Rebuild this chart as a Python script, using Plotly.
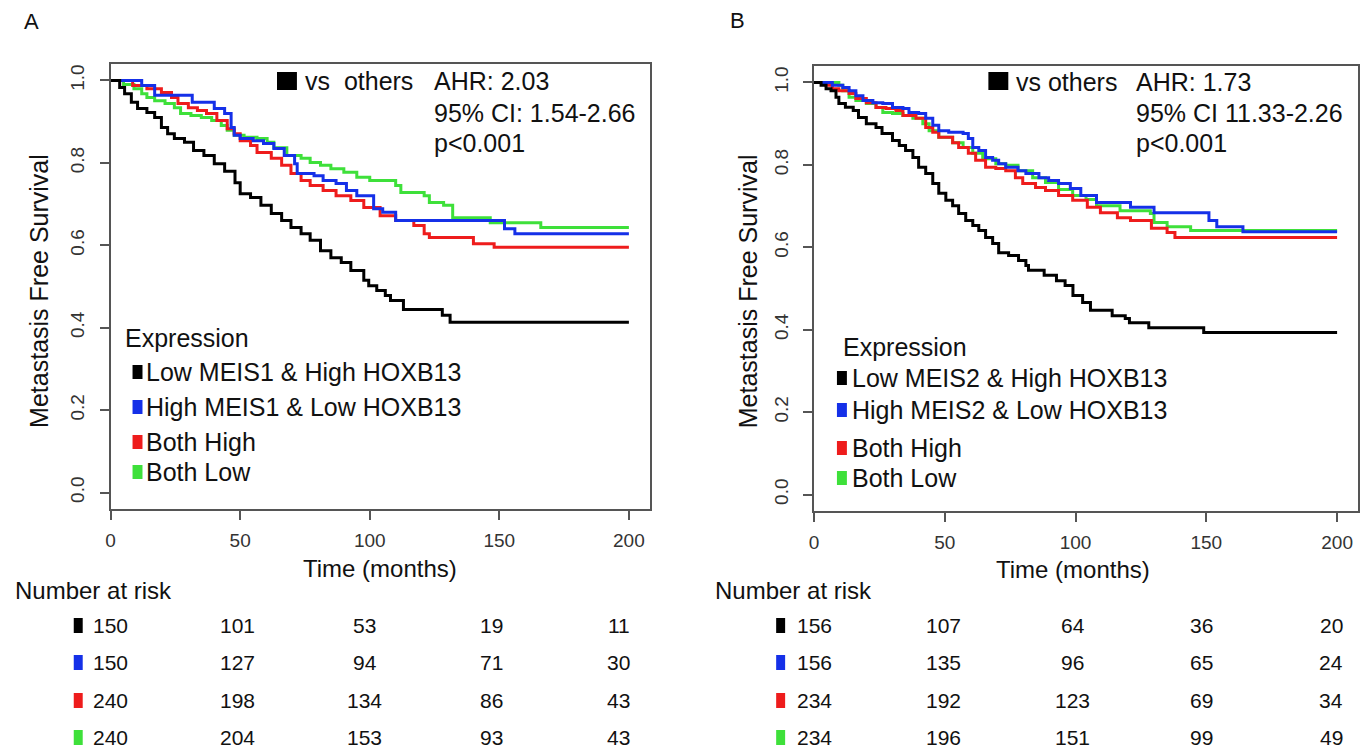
import plotly.graph_objects as go

W, H = 1363, 754

# ---------------- data ----------------
group_colors = ["#000000", "#1530e8", "#ee1c1c", "#3ee03a"]

a_black_t = [0, 3.5, 5.4, 8, 10.4, 14, 17, 19.6, 22, 24.6, 28.5, 32, 36, 40, 44, 48, 50, 54, 58, 62, 66, 69.6,
             73.5, 77, 81, 85, 89, 92.7, 97.7, 99.6, 102.7, 106, 108, 113, 128, 131, 200]
a_black_s = [1, 0.983, 0.968, 0.947, 0.932, 0.922, 0.91, 0.886, 0.871, 0.859, 0.85, 0.83, 0.818, 0.798, 0.78,
             0.752, 0.725, 0.716, 0.697, 0.677, 0.66, 0.643, 0.628, 0.612, 0.587, 0.57, 0.558, 0.539, 0.515,
             0.502, 0.49, 0.478, 0.466, 0.444, 0.43, 0.413, 0.413]

a_blue_t = [0, 12, 17, 31.5, 40, 44, 46.5, 47.7, 50, 55, 59, 63, 67, 71, 72, 78.5, 82, 87, 91, 95, 101.5, 105,
            110, 152, 156, 200]
a_blue_s = [1, 0.988, 0.964, 0.947, 0.932, 0.92, 0.886, 0.867, 0.859, 0.854, 0.847, 0.835, 0.818, 0.798, 0.774,
            0.769, 0.757, 0.75, 0.733, 0.72, 0.689, 0.68, 0.66, 0.64, 0.628, 0.628]

a_red_t = [0, 8.5, 14, 19.6, 23.5, 26, 30, 33.5, 37, 41, 45, 47.7, 50, 54, 56.5, 62, 66, 69.6, 73.5, 77, 82, 87,
           92.7, 97.7, 104, 110, 117, 121, 123, 140, 148, 200]
a_red_s = [1, 0.988, 0.98, 0.971, 0.959, 0.944, 0.934, 0.927, 0.92, 0.903, 0.883, 0.871, 0.854, 0.842, 0.825,
           0.811, 0.794, 0.774, 0.757, 0.745, 0.733, 0.72, 0.709, 0.692, 0.672, 0.66, 0.648, 0.628, 0.619,
           0.604, 0.595, 0.595]

a_green_t = [0, 5, 9, 12, 14, 17, 21, 24.6, 27, 31, 35, 39, 42.7, 45, 47.7, 51.5, 56.5, 60.4, 63, 68, 73.5, 77,
             81, 85, 90, 95, 100, 110, 112, 121, 123, 128.5, 132, 146.5, 166, 200]
a_green_s = [1, 0.99, 0.98, 0.968, 0.959, 0.951, 0.944, 0.934, 0.92, 0.915, 0.91, 0.903, 0.891, 0.879, 0.867,
             0.862, 0.859, 0.85, 0.837, 0.818, 0.811, 0.801, 0.794, 0.786, 0.777, 0.765, 0.757, 0.745, 0.728,
             0.72, 0.704, 0.697, 0.667, 0.655, 0.643, 0.643]

b_black_t = [0, 2.7, 4.6, 6.5, 8.4, 9.5, 12, 15, 17, 20, 23.7, 26, 30, 32.6, 35, 37.8, 40, 42.7, 45.4, 47.7,
             50.4, 53, 55.3, 58, 60.7, 63, 65.6, 68.3, 70.6, 74.4, 78.2, 81, 82, 88, 92.7, 96, 99, 102.7, 105.7,
             114, 119, 120.6, 128, 149, 200]
b_black_s = [1, 0.993, 0.985, 0.98, 0.964, 0.949, 0.94, 0.932, 0.915, 0.9, 0.891, 0.876, 0.859, 0.847, 0.835,
             0.818, 0.794, 0.779, 0.755, 0.731, 0.714, 0.701, 0.682, 0.665, 0.653, 0.641, 0.624, 0.609, 0.587,
             0.58, 0.568, 0.556, 0.544, 0.532, 0.519, 0.507, 0.483, 0.466, 0.447, 0.434, 0.427, 0.417, 0.405,
             0.393, 0.393]

b_blue_t = [0, 7, 11, 13.4, 16, 18.7, 22.5, 26.3, 30, 34, 36.3, 40, 42.7, 45.4, 47.7, 51.5, 57, 59, 60.7, 63,
            65.6, 68.3, 70.6, 73.3, 78, 81, 86, 89.7, 93.5, 98, 102, 108, 121, 130, 151, 154, 164, 200]
b_blue_s = [1, 0.993, 0.988, 0.98, 0.968, 0.956, 0.951, 0.949, 0.939, 0.937, 0.927, 0.925, 0.913, 0.896, 0.883,
            0.879, 0.876, 0.864, 0.842, 0.835, 0.818, 0.811, 0.803, 0.794, 0.786, 0.779, 0.769, 0.762, 0.755,
            0.743, 0.726, 0.709, 0.697, 0.684, 0.665, 0.65, 0.638, 0.638]

b_red_t = [0, 4.6, 7, 9.5, 13.4, 16, 20, 23.7, 27.5, 31.3, 34, 39, 42.7, 45.4, 47.7, 53, 55.3, 59, 61.8, 65.6,
           69.5, 73.3, 77, 79.8, 84.7, 88.5, 93.5, 98.9, 104.5, 109.5, 116, 121, 129, 135, 138, 200]
b_red_s = [1, 0.993, 0.985, 0.98, 0.973, 0.961, 0.951, 0.939, 0.937, 0.932, 0.92, 0.913, 0.891, 0.879, 0.867,
           0.854, 0.842, 0.828, 0.811, 0.794, 0.791, 0.786, 0.769, 0.755, 0.745, 0.738, 0.726, 0.714, 0.697,
           0.684, 0.672, 0.665, 0.646, 0.636, 0.624, 0.624]

b_green_t = [0, 9.5, 11, 13.4, 16, 20, 23.7, 26.3, 30, 34, 37.8, 41.6, 44, 47.7, 53, 57, 60.7, 64.5, 69.5, 73.3,
             78, 83.6, 88.5, 93.5, 98.9, 104, 108, 117, 128.6, 130, 135, 144, 200]
b_green_s = [1, 0.993, 0.98, 0.964, 0.956, 0.949, 0.939, 0.927, 0.925, 0.92, 0.913, 0.9, 0.883, 0.867, 0.854,
             0.842, 0.828, 0.815, 0.803, 0.799, 0.786, 0.769, 0.757, 0.74, 0.726, 0.716, 0.701, 0.689, 0.682,
             0.66, 0.65, 0.641, 0.641]

risk_times = [0, 50, 100, 150, 200]
a_risk = [[150, 101, 53, 19, 11], [150, 127, 94, 71, 30], [240, 198, 134, 86, 43], [240, 204, 153, 93, 43]]
b_risk = [[156, 107, 64, 36, 20], [156, 135, 96, 65, 24], [234, 192, 123, 69, 34], [234, 196, 151, 99, 49]]

a_labels = ["Low MEIS1 & High HOXB13", "High MEIS1 & Low HOXB13", "Both High", "Both Low"]
b_labels = ["Low MEIS2 & High HOXB13", "High MEIS2 & Low HOXB13", "Both High", "Both Low"]
a_stats = ["AHR: 2.03", "95% CI: 1.54-2.66", "p<0.001"]
b_stats = ["AHR: 1.73", "95% CI 11.33-2.26", "p<0.001"]
x_ticks = [0, 50, 100, 150, 200]
y_ticks = [0.0, 0.2, 0.4, 0.6, 0.8, 1.0]

# ---------------- figure ----------------
FONT = "Liberation Sans, Arial, Helvetica, sans-serif"
BIG = 25


def px(x):
    return x / W


def py(y):
    return 1 - y / H


fig = go.Figure()

a_curves = [(a_black_t, a_black_s), (a_blue_t, a_blue_s), (a_red_t, a_red_s), (a_green_t, a_green_s)]
b_curves = [(b_black_t, b_black_s), (b_blue_t, b_blue_s), (b_red_t, b_red_s), (b_green_t, b_green_s)]
draw_order = [3, 2, 1, 0]
for i in draw_order:
    t, s = a_curves[i]
    fig.add_trace(go.Scatter(x=t, y=s, mode="lines", line=dict(color=group_colors[i], width=3, shape="hv"),
                             xaxis="x", yaxis="y", showlegend=False, hoverinfo="skip"))
for i in draw_order:
    t, s = b_curves[i]
    fig.add_trace(go.Scatter(x=t, y=s, mode="lines", line=dict(color=group_colors[i], width=3, shape="hv"),
                             xaxis="x2", yaxis="y2", showlegend=False, hoverinfo="skip"))

axis_common = dict(showline=True, mirror=True, linecolor="#555555", linewidth=1.5, ticks="outside",
                   ticklen=9, tickwidth=1.5, tickcolor="#555555", showgrid=False, zeroline=False,
                   tickfont=dict(family=FONT, size=19, color="#333333"), ticklabelstandoff=8)

fig.update_layout(
    width=W, height=H, autosize=False,
    margin=dict(l=0, r=0, t=0, b=0),
    paper_bgcolor="white", plot_bgcolor="white",
    font=dict(family=FONT, color="#111111"),
    xaxis=dict(domain=[px(106), px(647)], range=[0, 208], tickvals=x_ticks, anchor="y", **axis_common),
    yaxis=dict(domain=[py(509), py(64)], range=[-0.04, 1.04], tickvals=y_ticks, tickformat=".1f",
               tickangle=-90, anchor="x", **axis_common),
    xaxis2=dict(domain=[px(812), px(1358)], range=[0, 208], tickvals=x_ticks, anchor="y2", **axis_common),
    yaxis2=dict(domain=[py(511), py(66)], range=[-0.04, 1.04], tickvals=y_ticks, tickformat=".1f",
                tickangle=-90, anchor="x2", **axis_common),
)
fig.update_xaxes(ticklabelstandoff=4)

ann = []
shapes = []


def text(x, y, s, size=BIG, xanchor="left", color="#111111", angle=0):
    ann.append(dict(x=px(x), y=py(y), xref="paper", yref="paper", text=s, showarrow=False,
                    xanchor=xanchor, yanchor="middle", textangle=angle,
                    font=dict(family=FONT, size=size, color=color)))


def rect(x0, y0, x1, y1, color):
    shapes.append(dict(type="rect", xref="paper", yref="paper", x0=px(x0), x1=px(x1), y0=py(y1), y1=py(y0),
                       fillcolor=color, line=dict(width=0)))


# panel letters
text(27, 22, "A", size=22, xanchor="center")
text(735, 20, "B", size=22, xanchor="center")

# axis titles
text(34, 291, "Metastasis Free Survival", xanchor="center", angle=-90)
text(746, 291, "Metastasis Free Survival", xanchor="center", angle=-90)
text(376, 568, "Time (months)", size=24, xanchor="center")
text(1072, 569, "Time (months)", size=24, xanchor="center")

# stats boxes
rect(273, 72, 293, 90, "#000000")
text(299, 81, "vs  others")
for k, s in enumerate(a_stats):
    text(429, [81, 113, 143][k], s)
rect(987, 72, 1007, 90, "#000000")
text(1013, 82, "vs others")
for k, s in enumerate(b_stats):
    text(1133, [82, 113, 143][k], s)

# legends
text(118, 338, "Expression")
for k, lab in enumerate(a_labels):
    yy = [372, 407, 442, 472][k]
    rect(128, yy - 7, 138, yy + 7, group_colors[k])
    text(140, yy, lab)
text(839, 347, "Expression")
for k, lab in enumerate(b_labels):
    yy = [378, 410, 448, 478][k]
    rect(835, yy - 7, 845, yy + 7, group_colors[k])
    text(848, yy, lab)

# number at risk tables
text(8, 590, "Number at risk", size=24)
text(711, 590, "Number at risk", size=24)
row_y = [625, 662, 700, 737]
for k in range(4):
    rect(69, row_y[k] - 7, 78, row_y[k] + 8, group_colors[k])
    rect(774, row_y[k] - 7, 783, row_y[k] + 8, group_colors[k])
    for j, t in enumerate(risk_times):
        ann.append(dict(x=t, y=py(row_y[k]), xref="x", yref="paper", text=str(a_risk[k][j]),
                        showarrow=False, xanchor="center", yanchor="middle", xshift=-0.05 * t,
                        font=dict(family=FONT, size=21, color="#111111")))
        ann.append(dict(x=t, y=py(row_y[k]), xref="x2", yref="paper", text=str(b_risk[k][j]),
                        showarrow=False, xanchor="center", yanchor="middle", xshift=-0.03 * t,
                        font=dict(family=FONT, size=21, color="#111111")))

fig.update_layout(annotations=ann, shapes=shapes)

fig.write_html("out.html", config={"displayModeBar": False},
               post_script="document.body.style.margin='0';document.body.style.padding='0';")
